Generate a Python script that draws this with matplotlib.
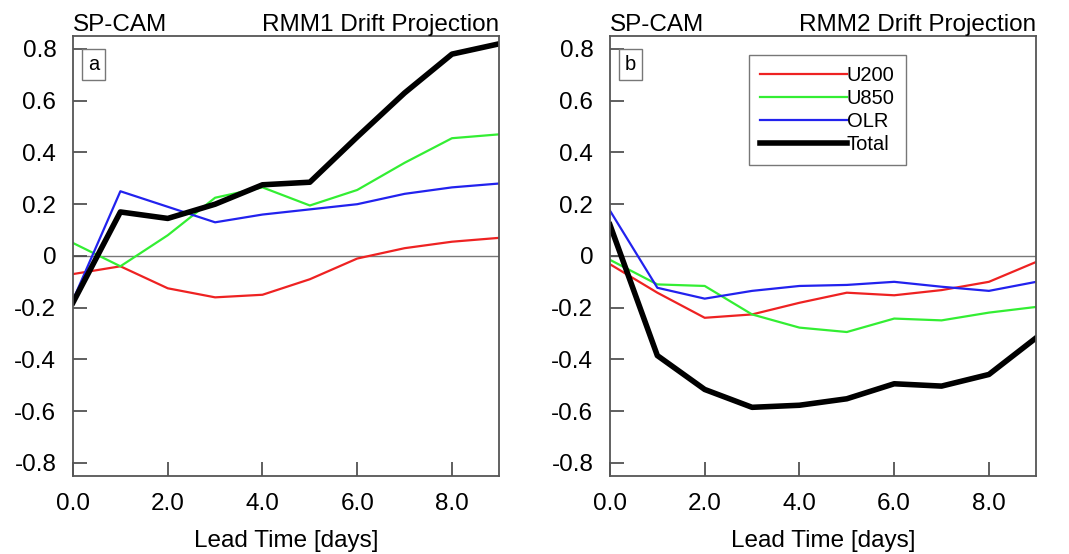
import matplotlib
matplotlib.use("Agg")
import matplotlib.pyplot as plt

plt.rcParams['font.family'] = ['Liberation Sans', 'DejaVu Sans']

# Lead time (days)
days = [0, 1, 2, 3, 4, 5, 6, 7, 8, 9]

# RMM1 drift projection
rmm1_u200 = [-0.07, -0.04, -0.125, -0.16, -0.15, -0.09, -0.01, 0.03, 0.055, 0.07]
rmm1_u850 = [0.05, -0.04, 0.08, 0.225, 0.265, 0.195, 0.255, 0.36, 0.455, 0.47]
rmm1_olr = [-0.17, 0.25, 0.19, 0.13, 0.16, 0.18, 0.20, 0.24, 0.265, 0.28]
rmm1_total = [-0.18, 0.17, 0.145, 0.20, 0.275, 0.285, 0.46, 0.63, 0.78, 0.82]

# RMM2 drift projection
rmm2_u200 = [-0.032, -0.142, -0.239, -0.226, -0.181, -0.142, -0.152, -0.132, -0.10, -0.023]
rmm2_u850 = [-0.015, -0.11, -0.116, -0.226, -0.277, -0.294, -0.242, -0.249, -0.219, -0.197]
rmm2_olr = [0.175, -0.123, -0.165, -0.135, -0.116, -0.112, -0.10, -0.119, -0.135, -0.10]
rmm2_total = [0.12, -0.385, -0.516, -0.585, -0.577, -0.552, -0.494, -0.503, -0.458, -0.316]

panels = [
    ("a", "RMM1 Drift Projection", rmm1_u200, rmm1_u850, rmm1_olr, rmm1_total),
    ("b", "RMM2 Drift Projection", rmm2_u200, rmm2_u850, rmm2_olr, rmm2_total),
]

fig = plt.figure(figsize=(10.69, 5.54), dpi=100)
lefts = [0.0683, 0.5706]

for left, (tag, title, u200, u850, olr, total) in zip(lefts, panels):
    ax = fig.add_axes([left, 0.141, 0.3988, 0.794])
    ax.axhline(0, color='#777777', lw=1.0, zorder=1)
    ax.plot(days, u200, color='#ee2222', lw=1.6, label='U200')
    ax.plot(days, u850, color='#33ee33', lw=1.6, label='U850')
    ax.plot(days, olr, color='#2222ee', lw=1.6, label='OLR')
    ax.plot(days, total, color='black', lw=4, label='Total')

    ax.set_xlim(0, 9)
    ax.set_ylim(-0.85, 0.85)
    ax.set_xticks([0, 2, 4, 6, 8])
    ax.set_xticklabels(['0.0', '2.0', '4.0', '6.0', '8.0'])
    ax.set_yticks([-0.8, -0.6, -0.4, -0.2, 0, 0.2, 0.4, 0.6, 0.8])
    ax.set_yticklabels(['-0.8', '-0.6', '-0.4', '-0.2', '0', '0.2', '0.4', '0.6', '0.8'])
    ax.tick_params(direction='in', length=10, width=1.2, labelsize=17.5, pad=12,
                   top=False, right=False, color='#444444')
    for s in ax.spines.values():
        s.set_color('#555555')
        s.set_linewidth(1.3)

    ax.set_xlabel('Lead Time [days]', fontsize=17.5, labelpad=11)
    ax.set_title('SP-CAM', loc='left', fontsize=17.5, pad=1)
    ax.set_title(title, loc='right', fontsize=17.5, pad=1)

    ax.text(0.035, 0.935, tag, transform=ax.transAxes, fontsize=14.5,
            va='center', ha='left',
            bbox=dict(boxstyle='square,pad=0.3', fc='white', ec='#777777', lw=1))

    if tag == "b":
        leg = ax.legend(loc='upper left', bbox_to_anchor=(0.326, 0.957),
                        fontsize=14.5, handlelength=4.3, handletextpad=0.0,
                        labelspacing=0.2, borderpad=0.55, fancybox=False,
                        framealpha=1, borderaxespad=0)
        leg.get_frame().set_edgecolor('#777777')
        leg.get_frame().set_linewidth(1)

fig.savefig('out.png', dpi=100)
